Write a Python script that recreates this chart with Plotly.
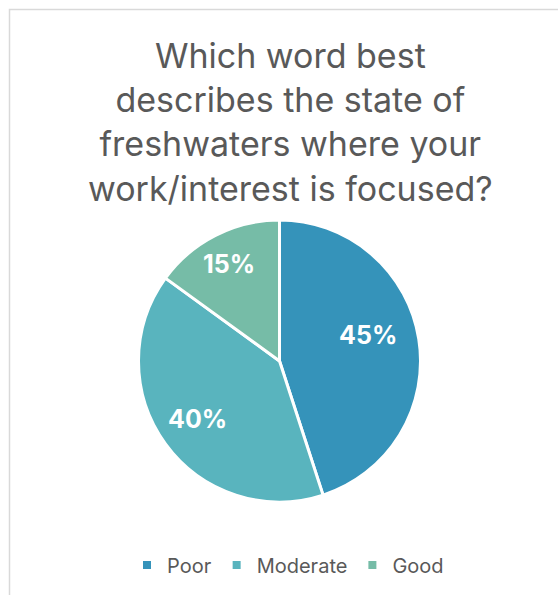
import math
import plotly.graph_objects as go

# Survey responses
categories = ["Poor", "Moderate", "Good"]
shares = [45, 40, 15]
colors = ["#3593BA", "#59B4BE", "#76BCA7"]
title_lines = ["Which word best", "describes the state of",
               "freshwaters where your", "work/interest is focused?"]

# per-label pixel nudges from the slice midpoint anchor
label_nudges = [(-12, -10), (0, -2), (-4, -7)]

W, H = 558, 595
FONT = "Inter, Open Sans, sans-serif"
TEXT_GREY = "#595959"


def px_x(px):
    return px / W


def px_y(py):
    return 1 - py / H


# pie geometry in pixels
cx, cy, r = 279.5, 361, 141
dom_x = [px_x(cx - r), px_x(cx + r)]
dom_y = [px_y(cy + r), px_y(cy - r)]

fig = go.Figure()
fig.add_trace(go.Pie(
    labels=categories,
    values=shares,
    sort=False,
    direction="clockwise",
    rotation=0,
    marker=dict(colors=colors, line=dict(color="white", width=3)),
    textinfo="none",
    hoverinfo="label+percent",
    showlegend=False,
    domain=dict(x=dom_x, y=dom_y),
))

# small square legend markers
for name, col in zip(categories, colors):
    fig.add_trace(go.Scatter(
        x=[None], y=[None], mode="markers", name=name,
        marker=dict(symbol="square", size=8, color=col),
    ))

# percentage labels placed at each slice's angular midpoint
total = sum(shares)
annotations = []
cum = 0
for v, (ndx, ndy) in zip(shares, label_nudges):
    mid = (cum + v / 2) / total * 2 * math.pi
    cum += v
    lx = cx + 0.72 * r * math.sin(mid) + ndx
    ly = cy - 0.72 * r * math.cos(mid) + ndy
    annotations.append(dict(
        x=px_x(lx), y=px_y(ly), xref="paper", yref="paper",
        text=f"<b>{round(v / total * 100)}%</b>", showarrow=False,
        font=dict(family=FONT, size=25, color="white"),
        xanchor="center", yanchor="middle",
    ))

annotations.append(dict(
    x=px_x(290), y=px_y(122), xref="paper", yref="paper",
    text="<br>".join(title_lines), showarrow=False,
    font=dict(family=FONT, size=34, color=TEXT_GREY),
    xanchor="center", yanchor="middle", align="center",
))

fig.update_layout(
    width=W, height=H,
    margin=dict(l=0, r=0, t=0, b=0),
    paper_bgcolor="white",
    plot_bgcolor="white",
    xaxis=dict(visible=False),
    yaxis=dict(visible=False),
    annotations=annotations,
    legend=dict(
        orientation="h", x=px_x(288), xanchor="center",
        y=px_y(565), yanchor="middle",
        font=dict(family=FONT, size=20, color=TEXT_GREY),
        itemwidth=30,
    ),
    shapes=[dict(
        type="rect", xref="paper", yref="paper",
        x0=px_x(9.5), x1=px_x(620), y0=px_y(640), y1=px_y(9.5),
        line=dict(color="#D9D9D9", width=1.5), fillcolor="rgba(0,0,0,0)",
        layer="below",
    )],
)

fig.write_html("out.html")
